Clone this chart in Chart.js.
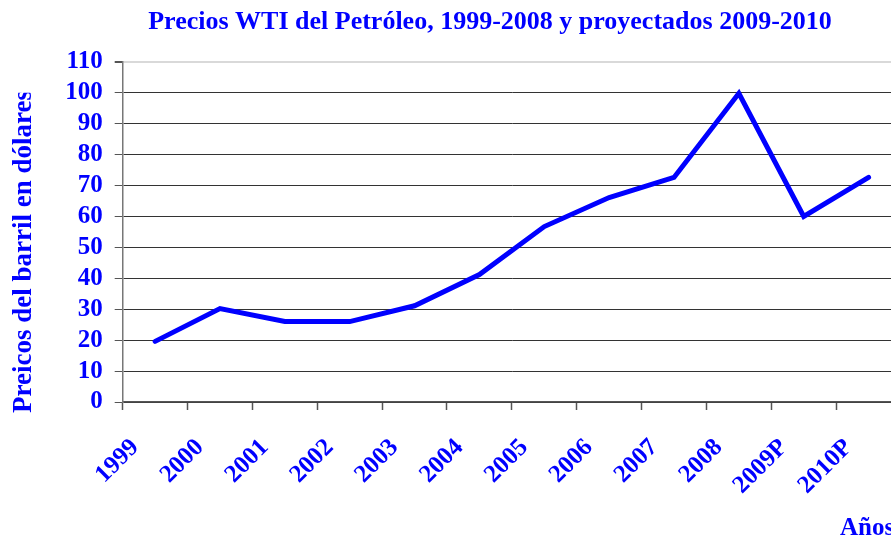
<!DOCTYPE html>
<html>
<head>
<meta charset="utf-8">
<script src="https://cdn.jsdelivr.net/npm/chart.js@4"></script>
<style>
  html, body { margin: 0; padding: 0; background: #fff; overflow: hidden; }
  #wrap { width: 980px; height: 538px; }
</style>
</head>
<body>
<div id="wrap"><canvas id="wti-chart"></canvas></div>
<script>
// Chart data
const years = ["1999", "2000", "2001", "2002", "2003", "2004", "2005", "2006", "2007", "2008", "2009P", "2010P"];
const prices = [19.6, 30.2, 26, 26, 31.1, 41.2, 56.7, 66.1, 72.6, 99.8, 60, 72.6];
const yTicks = [0, 10, 20, 30, 40, 50, 60, 70, 80, 90, 100, 110];

const titleText = "Precios WTI del Petróleo, 1999-2008 y proyectados 2009-2010";
const yTitleText = "Preicos del barril en dólares";
const xTitleText = "Años";

const blue = "#0000ff";
const serif = "'Liberation Serif', 'Times New Roman', serif";

// The original is a cropped picture: the title is centred on the wider sheet,
// the y title is cut off at the top and "Años" runs past the right edge.
// So these three texts are drawn by hand.
const textPlugin = {
  id: "croppedTexts",
  afterDraw(chart) {
    const { ctx, chartArea } = chart;
    ctx.save();
    ctx.fillStyle = blue;
    ctx.textBaseline = "alphabetic";

    // main title
    ctx.font = "bold 26px " + serif;
    ctx.textAlign = "center";
    ctx.fillText(titleText, 490, 29);

    // x axis title
    ctx.font = "bold 25px " + serif;
    ctx.textAlign = "left";
    ctx.fillText(xTitleText, chartArea.right - 61, 535);

    // y axis title, clipped
    ctx.beginPath();
    ctx.rect(0, chartArea.top + 31, 60, 400);
    ctx.clip();
    ctx.translate(31, chartArea.bottom + 11);
    ctx.rotate(-Math.PI / 2);
    ctx.font = "bold 27px " + serif;
    ctx.fillText(yTitleText, 0, 0);
    ctx.restore();
  },
};

const ctx = document.getElementById("wti-chart");

new Chart(ctx, {
  type: "line",
  data: {
    labels: years,
    datasets: [
      {
        label: "WTI",
        data: prices,
        borderColor: blue,
        borderWidth: 5,
        borderCapStyle: "round",
        borderJoinStyle: "miter",
        pointRadius: 0,
        tension: 0,
        fill: false,
      },
    ],
  },
  options: {
    responsive: true,
    maintainAspectRatio: false,
    animation: false,
    layout: { padding: { left: 0, right: 79, top: 61.7, bottom: 0 } },
    plugins: {
      legend: { display: false },
      tooltip: { enabled: false },
      title: { display: false },
    },
    scales: {
      x: {
        offset: true,
        grid: {
          offset: true,
          drawOnChartArea: false,
          tickLength: 8,
          tickColor: "#555",
          tickWidth: 1.5,
        },
        border: { color: "#555", width: 1.5 },
        ticks: {
          color: blue,
          font: { family: serif, size: 25, weight: "bold" },
          maxRotation: 45,
          minRotation: 45,
          autoSkip: false,
          padding: 23,
          labelOffset: -20,
        },
        afterFit(scale) {
          scale.height = 136;
        },
      },
      y: {
        min: 0,
        max: 110,
        afterBuildTicks(scale) {
          scale.ticks = yTicks.map((v) => ({ value: v }));
        },
        grid: {
          color: (c) => (c.tick && c.tick.value === 110 ? "#d9d9d9" : "#333"),
          lineWidth: (c) => (c.tick && c.tick.value === 110 ? 2 : 1),
          tickColor: "#555",
          tickLength: 8,
        },
        border: { color: "#777", width: 1.5 },
        ticks: {
          color: blue,
          font: { family: serif, size: 25, weight: "bold" },
          padding: 12,
          autoSkip: false,
        },
        afterFit(scale) {
          scale.width = 122.7;
        },
      },
    },
  },
  plugins: [textPlugin],
});
</script>
</body>
</html>
